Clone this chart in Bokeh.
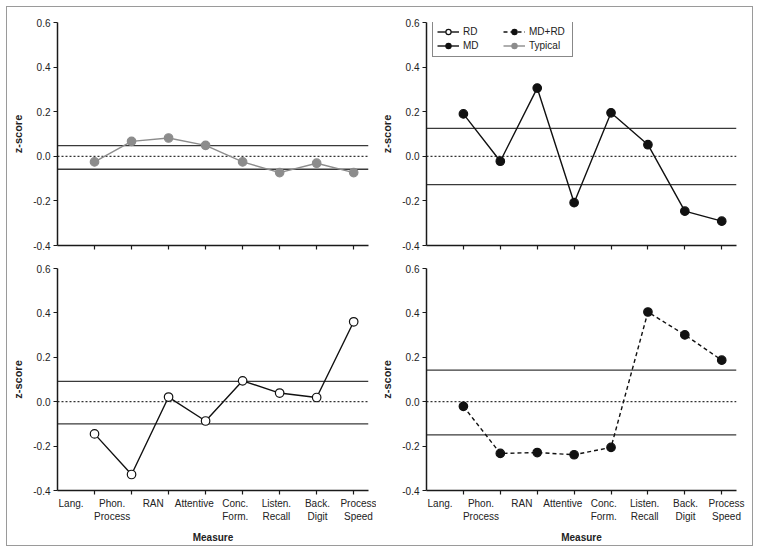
from bokeh.plotting import figure
from bokeh.models import (Range1d, LinearAxis, FixedTicker, Span, Legend, LegendItem,
                          ColumnDataSource, NumeralTickFormatter)
from bokeh.layouts import gridplot
from bokeh.embed import file_html
from bokeh.resources import INLINE

# ---------------- data ----------------
measures = ["Lang.", "Phon.\nProcess", "RAN", "Attentive", "Conc.\nForm.",
            "Listen.\nRecall", "Back.\nDigit", "Process\nSpeed"]
positions = [1, 2, 3, 4, 5, 6, 7, 8]

typical = [-0.025, 0.067, 0.082, 0.049, -0.025, -0.073, -0.031, -0.073]
md = [0.190, -0.022, 0.306, -0.208, 0.195, 0.052, -0.246, -0.291]
rd = [-0.145, -0.328, 0.021, -0.087, 0.094, 0.039, 0.019, 0.360]
mdrd = [-0.021, -0.233, -0.229, -0.239, -0.206, 0.404, 0.301, 0.187]

band_typical = [0.048, -0.058]
band_md = [0.125, -0.127]
band_rd = [0.092, -0.100]
band_mdrd = [0.142, -0.149]

y_ticks = [-0.4, -0.2, 0.0, 0.2, 0.4, 0.6]

# ---------------- style ----------------
FONT = "Liberation Sans"
TXT = "#222222"
AX = "#1a1a1a"
GRAY = "#8c8c8c"

styles = {
    "RD": dict(line_color="#111111", line_dash="solid", fill_color="white", mline="#111111"),
    "MD": dict(line_color="#111111", line_dash="solid", fill_color="#111111", mline="#111111"),
    "MD+RD": dict(line_color="#111111", line_dash="4 3", fill_color="#111111", mline="#111111"),
    "Typical": dict(line_color=GRAY, line_dash="solid", fill_color=GRAY, mline=GRAY),
}

X_END = 8.4
LAB_FIRST = 0.367   # where the first category label sits on the point scale
LAB_STEP = 1.109    # label spacing on the point scale
lab_start = 1 + (0 - LAB_FIRST) / LAB_STEP
lab_end = 1 + (X_END - LAB_FIRST) / LAB_STEP
point_ticks_lab = [1 + (x - LAB_FIRST) / LAB_STEP for x in positions]


def add_series(p, name, xs, ys, visible=True):
    st = styles[name]
    src = ColumnDataSource(dict(x=xs, y=ys))
    r1 = p.line("x", "y", source=src, line_color=st["line_color"], line_width=1.4,
                line_dash=st["line_dash"], visible=visible)
    r2 = p.scatter("x", "y", source=src, size=8.5, marker="circle",
                   fill_color=st["fill_color"], line_color=st["mline"], line_width=1.2,
                   visible=visible)
    return r1, r2


def panel(name, values, band, top, left):
    width = 369 if left else 376
    height = 250 if top else 288
    p = figure(width=width, height=height, x_range=Range1d(0, X_END),
               y_range=Range1d(-0.4, 0.6), output_backend="svg", toolbar_location=None,
               x_axis_type=None, y_axis_type=None,
               min_border_left=50, min_border_right=8 if left else 16,
               min_border_top=15 if top else 11, min_border_bottom=12 if top else 54)
    p.outline_line_color = None
    p.background_fill_color = "white"
    p.border_fill_color = "white"
    p.extra_x_ranges = {"lab": Range1d(lab_start, lab_end)}

    # y axis
    ya = LinearAxis(ticker=FixedTicker(ticks=y_ticks),
                    formatter=NumeralTickFormatter(format="0.0"),
                    axis_label="z-score")
    ya.axis_line_color = AX
    ya.axis_line_width = 1.5
    ya.major_tick_line_color = AX
    ya.major_tick_in = 0
    ya.major_tick_out = 4
    ya.minor_tick_line_color = None
    ya.major_label_text_font = FONT
    ya.major_label_text_font_size = "10px"
    ya.major_label_text_color = TXT
    ya.major_label_standoff = 3
    ya.axis_label_text_font = FONT
    ya.axis_label_text_font_size = "11px"
    ya.axis_label_text_font_style = "bold"
    ya.axis_label_text_color = TXT
    ya.axis_label_standoff = 6
    p.add_layout(ya, "left")

    # x axis: labels as major ticks (no marks), point tick marks as minor ticks
    label_ticks = [] if top else positions
    xa = LinearAxis(x_range_name="lab",
                    ticker=FixedTicker(ticks=label_ticks, minor_ticks=point_ticks_lab))
    xa.axis_line_color = AX
    xa.axis_line_width = 1.5
    xa.major_tick_line_color = None
    xa.major_tick_in = 0
    xa.major_tick_out = 0
    xa.minor_tick_line_color = AX
    xa.minor_tick_line_width = 1.2
    xa.minor_tick_in = 0
    xa.minor_tick_out = 4
    if not top:
        xa.major_label_overrides = {i: m for i, m in zip(positions, measures)}
        xa.axis_label = "Measure"
        xa.major_label_standoff = 3
        xa.major_label_text_font = FONT
        xa.major_label_text_font_size = "10px"
        xa.major_label_text_color = TXT
        xa.axis_label_text_font = FONT
        xa.axis_label_text_font_size = "10px"
        xa.axis_label_text_font_style = "bold"
        xa.axis_label_text_color = TXT
        xa.axis_label_standoff = 7
    p.add_layout(xa, "below")

    # reference lines
    for b in band:
        p.add_layout(Span(location=b, dimension="width", line_color="#3a3a3a",
                          line_width=1.3, level="underlay"))
    p.add_layout(Span(location=0, dimension="width", line_color="#333333",
                      line_width=1.2, line_dash="2 2", level="underlay"))

    r = add_series(p, name, positions, values)
    return p, r


p_typ, _ = panel("Typical", typical, band_typical, True, True)
p_md, r_md = panel("MD", md, band_md, True, False)
p_rd, _ = panel("RD", rd, band_rd, False, True)
p_mdrd, _ = panel("MD+RD", mdrd, band_mdrd, False, False)

# legend in the MD panel: hidden copies of the other groups supply the legend glyphs
leg_r = {"MD": r_md,
         "RD": add_series(p_md, "RD", positions, rd, visible=False),
         "MD+RD": add_series(p_md, "MD+RD", positions, mdrd, visible=False),
         "Typical": add_series(p_md, "Typical", positions, typical, visible=False)}

items = [LegendItem(label=nm, renderers=list(leg_r[nm])) for nm in ["RD", "MD", "MD+RD", "Typical"]]
legend = Legend(items=items, ncols=2, location=(6, 188), orientation="vertical")
legend.border_line_color = "#111111"
legend.border_line_width = 1
legend.background_fill_alpha = 1
legend.inactive_fill_alpha = 0
legend.label_text_font = FONT
legend.label_text_font_size = "10px"
legend.label_text_color = TXT
legend.glyph_width = 22
legend.glyph_height = 13
legend.label_height = 13
legend.label_width = 39
legend.label_standoff = 4
legend.spacing = 1
legend.padding = 4
legend.margin = 0
p_md.add_layout(legend, "center")

grid = gridplot([[p_typ, p_md], [p_rd, p_mdrd]], toolbar_location=None)
grid.styles = {"border": "1px solid #9a9a9a", "margin": "6px"}

open("out.html", "w").write(file_html(grid, INLINE))
